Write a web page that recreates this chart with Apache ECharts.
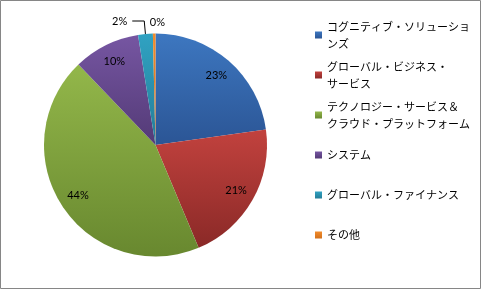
<!DOCTYPE html>
<html><head><meta charset="utf-8">
<script src="https://cdn.jsdelivr.net/npm/echarts@6/dist/echarts.min.js"></script>
<style>html,body{margin:0;padding:0;background:#fff}#c{width:481px;height:289px}</style>
</head><body><div id="c"></div>
<script>
const categories = ['コグニティブ・ソリューションズ','グローバル・ビジネス・サービス','テクノロジー・サービス＆クラウド・プラットフォーム','システム','グローバル・ファイナンス','その他'];
const legendText = ['コグニティブ・ソリューショ\nンズ','グローバル・ビジネス・\nサービス','テクノロジー・サービス＆\nクラウド・プラットフォーム','システム','グローバル・ファイナンス','その他'];
const values = [18.2, 16.7, 35.3, 7.7, 1.7, 0.3];
const topColors = ['#3d77c0','#c2423e','#93b74a','#7656a2','#30a2c2','#f28c2c'];
const bottomColors = ['#2b5595','#8a2927','#68882f','#533a76','#247d98','#d2701a'];

const total = values.reduce((a, b) => a + b, 0);
const grad = i => new echarts.graphic.LinearGradient(0, 0, 0, 1, [
  {offset: 0, color: topColors[i]}, {offset: 1, color: bottomColors[i]}]);
const isSmall = v => v / total < 0.05;
const L = 17;

const mainData = categories.map((n, i) => {
  const small = isSmall(values[i]);
  const last = i === categories.length - 1;
  return {
    name: n, value: values[i],
    itemStyle: {color: grad(i)},
    label: {show: small, distanceToLabelLine: last ? -11 : 5},
    labelLine: {show: small && !last, length: last ? 11.5 : 13, length2: last ? 0 : 12}
  };
});
const overlayData = categories.map((n, i) => ({
  name: n, value: values[i], label: {show: !isSmall(values[i])}
}));

const labelFont = {fontFamily: 'Lato', fontSize: 11, color: '#000'};

const option = {
  animation: false,
  graphic: [{type: 'rect', shape: {x: 0.5, y: 0.5, width: 480, height: 288},
    style: {fill: 'none', stroke: '#868686', lineWidth: 1}, silent: true}],
  legend: {
    orient: 'vertical', left: 315, top: 9.5, padding: 0,
    itemWidth: 7, itemHeight: 7, itemGap: 40 - 3 * L, selectedMode: false,
    icon: 'rect',
    formatter: name => legendText[categories.indexOf(name)],
    textStyle: {fontFamily: 'Noto Sans CJK JP', fontSize: 11, color: '#000', lineHeight: L},
    data: categories.map((n, i) => ({
      name: n,
      textStyle: {padding: legendText[i].includes('\n') ? [L, 0, 0, 0] : [L, 0, L, 0]}
    }))
  },
  series: [
    {
      type: 'pie', center: [155.5, 145], radius: [0, 111.5], startAngle: 90,
      avoidLabelOverlap: false, percentPrecision: 0, silent: true,
      label: Object.assign({position: 'outside', formatter: '{d}%'}, labelFont),
      labelLine: {lineStyle: {color: '#000', width: 1}},
      data: mainData
    },
    {
      type: 'pie', center: [155.5, 145], radius: [68, 111.5], startAngle: 90,
      avoidLabelOverlap: false, percentPrecision: 0, silent: true,
      itemStyle: {color: 'rgba(0,0,0,0)'},
      label: Object.assign({position: 'inside', formatter: '{d}%'}, labelFont),
      labelLine: {show: false},
      data: overlayData
    }
  ]
};
echarts.init(document.getElementById('c')).setOption(option);
</script></body></html>
